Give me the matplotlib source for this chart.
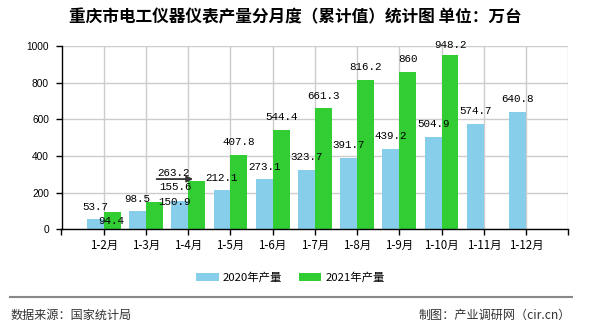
import matplotlib
matplotlib.use("Agg")
import matplotlib.pyplot as plt
from matplotlib.transforms import offset_copy
from matplotlib.lines import Line2D
import numpy as np

plt.rcParams['font.family'] = ['Noto Sans CJK SC', 'DejaVu Sans']

categories = ["1-2月", "1-3月", "1-4月", "1-5月", "1-6月", "1-7月", "1-8月",
              "1-9月", "1-10月", "1-11月", "1-12月"]
values_2020 = [53.7, 98.5, 155.6, 212.1, 273.1, 323.7, 391.7, 439.2, 504.9, 574.7, 640.8]
values_2021 = [94.4, 150.9, 263.2, 407.8, 544.4, 661.3, 816.2, 860, 948.2, None, None]
series_names = ["2020年产量", "2021年产量"]
yticks = [0, 200, 400, 600, 800, 1000]

c2020 = "#87CEEB"
c2021 = "#32CD32"

W, H = 590, 330
fig = plt.figure(figsize=(W / 100, H / 100), dpi=100)
ax = fig.add_axes([61.5 / W, 1 - 229.3 / H, (568.3 - 61.5) / W, (229.3 - 46) / H])

x = np.arange(len(categories))
w = 0.4
v20 = np.array(values_2020, dtype=float)
v21 = np.array([np.nan if v is None else v for v in values_2021], dtype=float)
b1 = ax.bar(x - w / 2, v20, width=w, color=c2020, zorder=3, label=series_names[0])
b2 = ax.bar(x + w / 2, np.nan_to_num(v21), width=w, color=c2021, zorder=3, label=series_names[1])

ax.set_xlim(-1, len(categories))
ax.set_ylim(0, 1000)
ax.set_yticks(yticks)
ax.set_xticks(np.arange(-1, len(categories) + 1))
ax.set_xticklabels([""] + categories + [""])
ax.grid(True, color="#cccccc", linewidth=1, zorder=0)
ax.set_axisbelow(True)
for s in ["top", "right"]:
    ax.spines[s].set_visible(False)
for s in ["left", "bottom"]:
    ax.spines[s].set_color("black")
    ax.spines[s].set_linewidth(1)
    ax.spines[s].set_zorder(4)
ax.tick_params(axis="both", direction="out", length=4, width=1, color="black")
ax.tick_params(axis="y", pad=5)
ax.tick_params(axis="x", pad=3)
for lab in ax.get_yticklabels():
    lab.set_fontfamily("Liberation Sans")
    lab.set_fontsize(7.3)
for lab in ax.get_xticklabels():
    lab.set_fontsize(8.3)

lab_font = dict(family="Liberation Mono", size=7.8, color="black")

def fmt(v):
    return f"{v:g}"

# default label offset (pixels) above bar top; a few labels displaced as in reference
off20 = {2: (-4, 14)}
off21 = {0: (-0.5, -8.7), 1: (20.3, 0), 2: (-23.4, 8.3), 8: (0, 10)}
for i, v in enumerate(values_2020):
    dx, dy = off20.get(i, (0, 12.5))
    ax.annotate(fmt(v), xy=(x[i] - w / 2, v), xytext=(dx, dy), textcoords="offset pixels",
                ha="center", va="center", zorder=5, **lab_font)
for i, v in enumerate(values_2021):
    if v is None:
        continue
    dx, dy = off21.get(i, (0, 12.5))
    ax.annotate(fmt(v), xy=(x[i] + w / 2, v), xytext=(dx, dy), textcoords="offset pixels",
                ha="center", va="center", zorder=5, **lab_font)

# leader arrow for the displaced 1-4月 label
xa, va_ = x[2] + w / 2, values_2021[2]
tip = offset_copy(ax.transData, fig, x=-3.5, y=2, units="dots")
tail = offset_copy(ax.transData, fig, x=-40, y=2, units="dots")
ax.annotate("", xy=(xa, va_), xycoords=tip, xytext=(xa, va_), textcoords=tail,
            arrowprops=dict(arrowstyle="-|>", color="#333333", lw=1.3, mutation_scale=9,
                            shrinkA=0, shrinkB=0), zorder=6)

# title
fig.text(295 / W, 1 - 17 / H, "重庆市电工仪器仪表产量分月度（累计值）统计图 单位：万台",
         ha="center", va="center", fontsize=12, fontweight="bold", color="black")

# legend
leg = fig.legend(handles=[b1, b2], labels=series_names, loc="center",
                 bbox_to_anchor=(290.5 / W, 1 - 277.5 / H), ncol=2, frameon=False,
                 fontsize=8.2, handlelength=1.95, handleheight=0.67, handletextpad=0.38,
                 columnspacing=1.45, borderaxespad=0, borderpad=0)

# footer
fig.add_artist(Line2D([10 / W, 571.7 / W], [1 - 297.3 / H, 1 - 297.3 / H],
                      transform=fig.transFigure, color="#888888", linewidth=1.5))
fig.text(11 / W, 1 - 315 / H, "数据来源：国家统计局", ha="left", va="center",
         fontsize=8.7, color="#333333")
fig.text(571 / W, 1 - 315 / H, "制图：产业调研网（cir.cn）", ha="right", va="center",
         fontsize=8.7, color="#333333")

fig.savefig("out.png", dpi=100)
